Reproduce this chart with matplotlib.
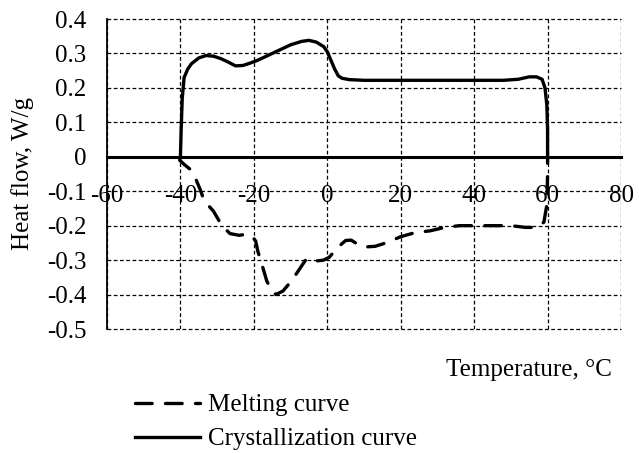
import matplotlib.pyplot as plt

plt.rcParams['font.family'] = ['Liberation Serif', 'DejaVu Serif']
plt.rcParams['font.size'] = 18
plt.rcParams['axes.unicode_minus'] = False

# melting curve (dashed)
melt_T = [-40, -40.2, -39, -37.5, -36, -34.7, -33.5, -31, -28.7, -26.5, -24, -22,
          -20.5, -19.5, -18.9, -17.6, -16.5, -15.1, -14, -12.1, -9.7, -7.5, -5.6,
          -4, -2.6, -1, 0.5, 1.5, 3.4, 5, 6.5, 8, 10, 13, 16, 20, 24, 28, 32, 36,
          40, 45, 50, 54, 57, 59, 59.8, 60, 60]
melt_Q = [0, -0.01, -0.022, -0.035, -0.06, -0.093, -0.128, -0.158, -0.2, -0.223,
          -0.228, -0.225, -0.23, -0.245, -0.275, -0.32, -0.36, -0.39, -0.4, -0.39,
          -0.36, -0.325, -0.295, -0.3, -0.302, -0.3, -0.292, -0.28, -0.258,
          -0.243, -0.242, -0.252, -0.262, -0.26, -0.25, -0.232, -0.22, -0.215,
          -0.205, -0.2, -0.2, -0.2, -0.2, -0.205, -0.205, -0.19, -0.14, -0.05, 0]

# crystallization curve (solid)
cry_T = [-40, -39.8, -39.5, -39, -38, -37, -35, -33, -31, -29, -27, -25, -23, -21,
         -19, -16, -13, -10, -7, -5, -3, -1, 0, 1, 2, 3, 4, 6, 10, 20, 30, 40, 48,
         52, 55, 57, 58.5, 59.3, 59.8, 60, 60]
cry_Q = [0, 0.08, 0.17, 0.23, 0.255, 0.27, 0.287, 0.294, 0.292, 0.285, 0.275,
         0.264, 0.265, 0.272, 0.28, 0.295, 0.31, 0.325, 0.335, 0.338, 0.333, 0.32,
         0.305, 0.28, 0.255, 0.235, 0.228, 0.224, 0.222, 0.222, 0.222, 0.222,
         0.222, 0.225, 0.232, 0.232, 0.225, 0.2, 0.15, 0.08, 0]

x_ticks = [-60, -40, -20, 0, 20, 40, 60, 80]
y_ticks = [-0.5, -0.4, -0.3, -0.2, -0.1, 0, 0.1, 0.2, 0.3, 0.4]

fig = plt.figure(figsize=(6.39, 4.53), dpi=100)
ax = fig.add_axes([107 / 639, 1 - 329 / 453, 514 / 639, 310 / 453])

ax.plot(melt_T, melt_Q, color='black', lw=2.4, ls=(0, (5, 4)),
        dash_capstyle='round', label='Melting curve')
ax.plot(cry_T, cry_Q, color='black', lw=2.4, solid_joinstyle='round',
        label='Crystallization curve')

ax.set_xlim(-60, 80)
ax.set_ylim(-0.5, 0.4)
ax.set_xticks(x_ticks)
ax.set_yticks(y_ticks)
ax.set_yticklabels(['%g' % v for v in y_ticks])
ax.grid(True, color='black', ls=(0, (3, 2)), lw=0.9)
for gl in ax.get_xgridlines() + ax.get_ygridlines():
    gl.set_clip_on(False)

ax.spines['top'].set_visible(False)
ax.spines['right'].set_visible(False)
ax.spines['bottom'].set_position(('data', 0))
ax.spines['bottom'].set_linewidth(2.2)
ax.spines['bottom'].set_zorder(3)
ax.spines['left'].set_linewidth(1.3)
ax.tick_params(axis='x', length=0, pad=20)
ax.tick_params(axis='y', length=0, pad=15)

ax.set_ylabel('Heat flow, W/g')
ax.yaxis.set_label_coords(-73 / 514, 0.5)
fig.text(612 / 639, 1 - 370 / 453, 'Temperature, °C', ha='right', va='center')

ax.legend(loc='upper left', bbox_to_anchor=(135 / 639, 1 - 394 / 453),
          bbox_transform=fig.transFigure, frameon=False, handlelength=2.6,
          handletextpad=0.3, labelspacing=0.45, borderaxespad=0, borderpad=0)

fig.savefig('out.png', dpi=100)
